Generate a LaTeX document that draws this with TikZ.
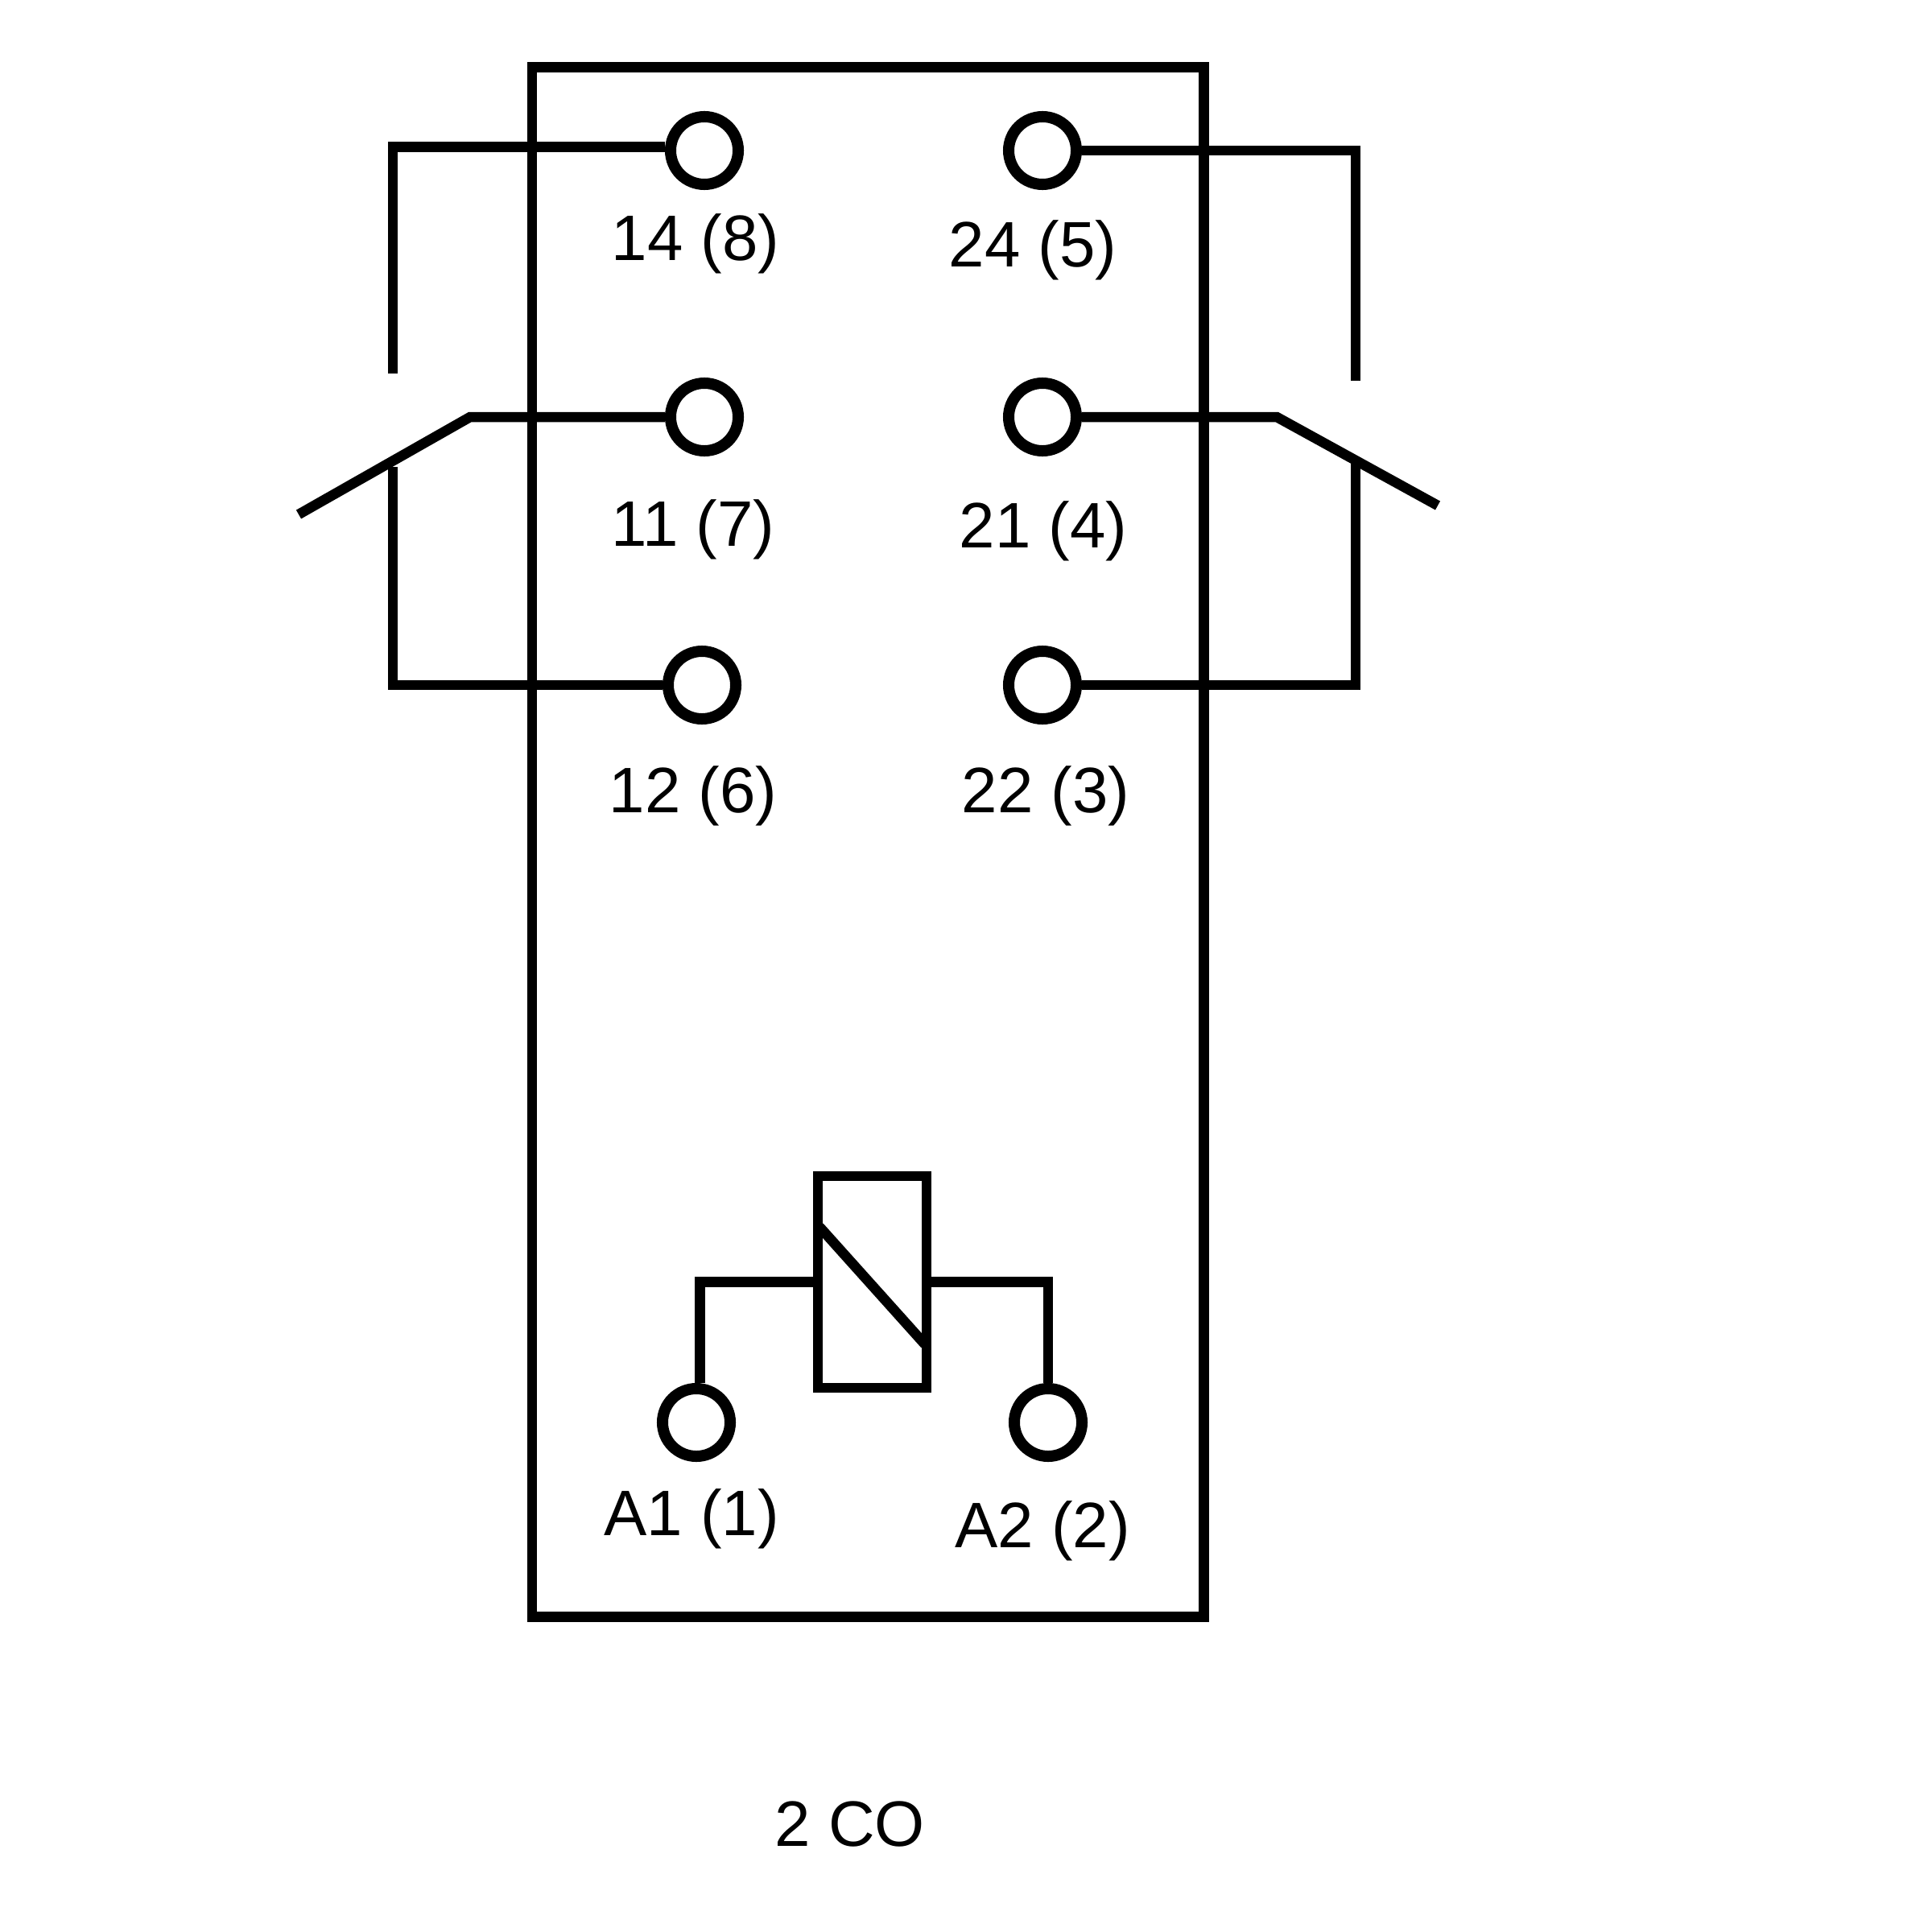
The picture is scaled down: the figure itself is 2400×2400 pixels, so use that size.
\documentclass[tikz,border=0pt]{standalone}
\usepackage{fontspec}
\setmainfont{Liberation Sans}

\begin{document}
\begin{tikzpicture}[
            x = 0.01cm,
            y = -0.01cm,
            line width = 0.125cm % line style
        ]

        \tikzstyle{terminal}=[
            draw = black,
            circle,
            line width = 0.14cm,
            inner sep = 0pt,
            minimum size = 0.84cm
        ]
        \tikzstyle{pinlabel}=[
            anchor = base,
            inner sep = 0pt,
            font = \fontsize{22.7}{27}\selectfont
        ]

        \useasboundingbox (0,0) rectangle (2400,2400);

        % housing and coil
        \node[draw, inner sep=0pt, minimum width=8.34cm, minimum height=19.24cm] (housing) at (1078,1046) {};
        \node[draw, inner sep=0pt, line width=0.115cm, minimum width=1.35cm, minimum height=2.63cm] (coil) at (1083.5,1592.5) {};

        % terminals
        \node[terminal] (t14) at (875,187) {};
        \node[terminal] (t11) at (875,518) {};
        \node[terminal] (t12) at (872,851) {};
        \node[terminal] (t24) at (1295,187) {};
        \node[terminal] (t21) at (1295,518) {};
        \node[terminal] (t22) at (1295,851) {};
        \node[terminal] (a1) at (865,1767) {};
        \node[terminal] (a2) at (1302,1767) {};

        % labels
        \node[pinlabel] (l14) at (864,323) {14 (8)};
        \node[pinlabel] (l24) at (1283,331) {24 (5)};
        \node[pinlabel] (l11) at (861,678) {11 (7)};
        \node[pinlabel] (l21) at (1296,680) {21 (4)};
        \node[pinlabel] (l12) at (861,1009) {12 (6)};
        \node[pinlabel] (l22) at (1299,1009) {22 (3)};
        \node[pinlabel] (la1) at (859,1907) {A1 (1)};
        \node[pinlabel] (la2) at (1295,1922) {A2 (2)};
        \node[pinlabel] (type) at (1056,2293) {2 CO};

        % contact points
        \coordinate (no1) at (488,464);
        \coordinate (nc1) at (488,580);
        \coordinate (pivot1) at (584,518);
        \coordinate (tip1) at (371,639);
        \coordinate (no2) at (1684,473);
        \coordinate (nc2) at (1684,574);
        \coordinate (pivot2) at (1586,518);
        \coordinate (tip2) at (1786,628);
        \coordinate (slash1) at (1018,1524);
        \coordinate (slash2) at (1149,1670);

        \draw (no1) |- (t14.175);
        \draw (t11.west) -- (pivot1) -- (tip1);
        \draw (nc1) |- (t12.west);
        \draw (no2) |- (t24.east);
        \draw (t21.east) -- (pivot2) -- (tip2);
        \draw (nc2) |- (t22.east);
        \draw (coil.west) -| (a1.85);
        \draw (coil.east) -| (a2.north);
        \draw (slash1) -- (slash2);

\end{tikzpicture}
\end{document}
